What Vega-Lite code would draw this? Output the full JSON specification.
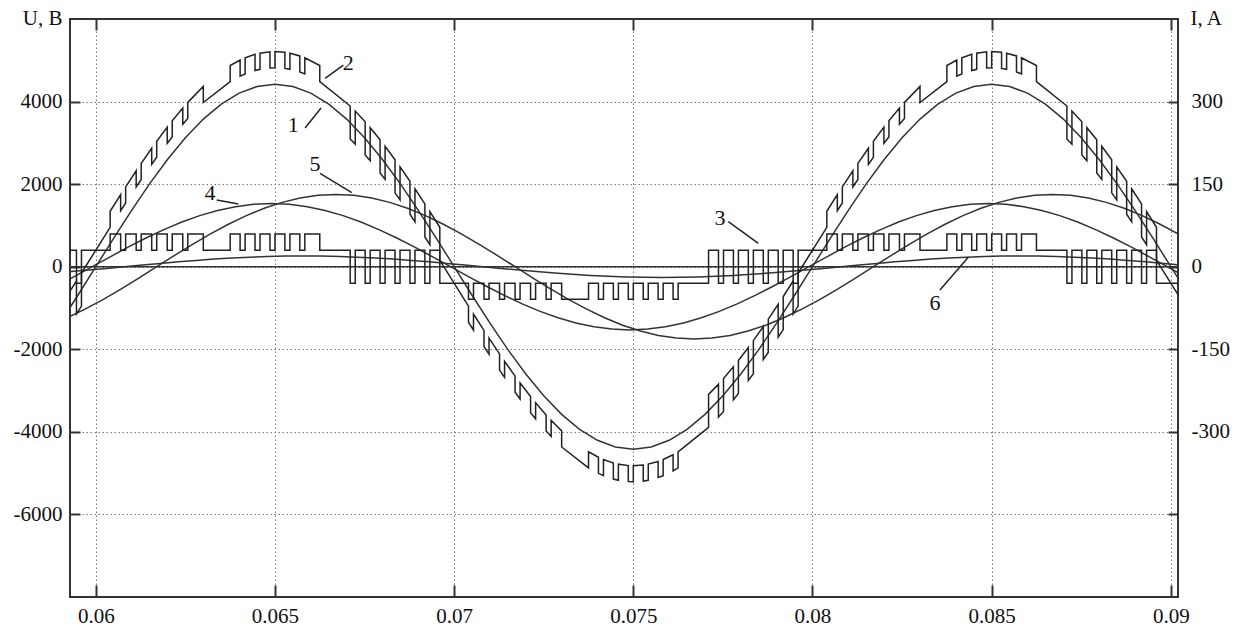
{
"$schema": "https://vega.github.io/schema/vega-lite/v6.json",
"width": 1108, "height": 578,
"autosize": {"type": "none"},
"padding": {"left": 70, "top": 19, "right": 70, "bottom": 31},
"background": "white",
"config": {
 "view": {"stroke": "#333", "strokeWidth": 2},
 "font": "Liberation Serif",
 "axis": {"domain": false, "tickColor": "#333", "tickWidth": 2, "gridColor": "#777", "gridDash": [1.5, 2.5], "gridWidth": 1,
  "labelFont": "Liberation Serif", "labelFontSize": 21, "labelColor": "#111", "titleFont": "Liberation Serif", "titleFontSize": 21,
  "titleFontWeight": "normal", "titleColor": "#111", "labelOverlap": false, "labelFlush": false}
},
"datasets": {
 "smooth": [
  {"s":"0","t":0.05928,"v":0},{"s":"0","t":0.0902,"v":0},
  {"s":"1","t":0.059,"v":-1366},{"s":"1","t":0.0595,"v":-691},{"s":"1","t":0.06,"v":0},{"s":"1","t":0.0605,"v":691},{"s":"1","t":0.061,"v":1366},{"s":"1","t":0.0615,"v":2007},{"s":"1","t":0.062,"v":2598},{"s":"1","t":0.0625,"v":3125},{"s":"1","t":0.063,"v":3576},{"s":"1","t":0.0635,"v":3938},{"s":"1","t":0.064,"v":4204},{"s":"1","t":0.0645,"v":4366},{"s":"1","t":0.065,"v":4420},{"s":"1","t":0.0655,"v":4366},{"s":"1","t":0.066,"v":4204},{"s":"1","t":0.0665,"v":3938},{"s":"1","t":0.067,"v":3576},{"s":"1","t":0.0675,"v":3125},{"s":"1","t":0.068,"v":2598},{"s":"1","t":0.0685,"v":2007},{"s":"1","t":0.069,"v":1366},{"s":"1","t":0.0695,"v":691},{"s":"1","t":0.07,"v":0},{"s":"1","t":0.0705,"v":-691},{"s":"1","t":0.071,"v":-1366},{"s":"1","t":0.0715,"v":-2007},{"s":"1","t":0.072,"v":-2598},{"s":"1","t":0.0725,"v":-3125},{"s":"1","t":0.073,"v":-3576},{"s":"1","t":0.0735,"v":-3938},{"s":"1","t":0.074,"v":-4204},{"s":"1","t":0.0745,"v":-4366},{"s":"1","t":0.075,"v":-4420},{"s":"1","t":0.0755,"v":-4366},{"s":"1","t":0.076,"v":-4204},{"s":"1","t":0.0765,"v":-3938},{"s":"1","t":0.077,"v":-3576},{"s":"1","t":0.0775,"v":-3125},{"s":"1","t":0.078,"v":-2598},{"s":"1","t":0.0785,"v":-2007},{"s":"1","t":0.079,"v":-1366},{"s":"1","t":0.0795,"v":-691},{"s":"1","t":0.08,"v":0},{"s":"1","t":0.0805,"v":691},{"s":"1","t":0.081,"v":1366},{"s":"1","t":0.0815,"v":2007},{"s":"1","t":0.082,"v":2598},{"s":"1","t":0.0825,"v":3125},{"s":"1","t":0.083,"v":3576},{"s":"1","t":0.0835,"v":3938},{"s":"1","t":0.084,"v":4204},{"s":"1","t":0.0845,"v":4366},{"s":"1","t":0.085,"v":4420},{"s":"1","t":0.0855,"v":4366},{"s":"1","t":0.086,"v":4204},{"s":"1","t":0.0865,"v":3938},{"s":"1","t":0.087,"v":3576},{"s":"1","t":0.0875,"v":3125},{"s":"1","t":0.088,"v":2598},{"s":"1","t":0.0885,"v":2007},{"s":"1","t":0.089,"v":1366},{"s":"1","t":0.0895,"v":691},{"s":"1","t":0.09,"v":0},{"s":"1","t":0.0905,"v":-691},
  {"s":"4","t":0.0589,"v":-473},{"s":"4","t":0.0594,"v":-239},{"s":"4","t":0.0599,"v":0},{"s":"4","t":0.0604,"v":239},{"s":"4","t":0.0609,"v":473},{"s":"4","t":0.0614,"v":695},{"s":"4","t":0.0619,"v":899},{"s":"4","t":0.0624,"v":1082},{"s":"4","t":0.0629,"v":1238},{"s":"4","t":0.0634,"v":1363},{"s":"4","t":0.0639,"v":1455},{"s":"4","t":0.0644,"v":1511},{"s":"4","t":0.0649,"v":1530},{"s":"4","t":0.0654,"v":1511},{"s":"4","t":0.0659,"v":1455},{"s":"4","t":0.0664,"v":1363},{"s":"4","t":0.0669,"v":1238},{"s":"4","t":0.0674,"v":1082},{"s":"4","t":0.0679,"v":899},{"s":"4","t":0.0684,"v":695},{"s":"4","t":0.0689,"v":473},{"s":"4","t":0.0694,"v":239},{"s":"4","t":0.0699,"v":0},{"s":"4","t":0.0704,"v":-239},{"s":"4","t":0.0709,"v":-473},{"s":"4","t":0.0714,"v":-695},{"s":"4","t":0.0719,"v":-899},{"s":"4","t":0.0724,"v":-1082},{"s":"4","t":0.0729,"v":-1238},{"s":"4","t":0.0734,"v":-1363},{"s":"4","t":0.0739,"v":-1455},{"s":"4","t":0.0744,"v":-1511},{"s":"4","t":0.0749,"v":-1530},{"s":"4","t":0.0754,"v":-1511},{"s":"4","t":0.0759,"v":-1455},{"s":"4","t":0.0764,"v":-1363},{"s":"4","t":0.0769,"v":-1238},{"s":"4","t":0.0774,"v":-1082},{"s":"4","t":0.0779,"v":-899},{"s":"4","t":0.0784,"v":-695},{"s":"4","t":0.0789,"v":-473},{"s":"4","t":0.0794,"v":-239},{"s":"4","t":0.0799,"v":0},{"s":"4","t":0.0804,"v":239},{"s":"4","t":0.0809,"v":473},{"s":"4","t":0.0814,"v":695},{"s":"4","t":0.0819,"v":899},{"s":"4","t":0.0824,"v":1082},{"s":"4","t":0.0829,"v":1238},{"s":"4","t":0.0834,"v":1363},{"s":"4","t":0.0839,"v":1455},{"s":"4","t":0.0844,"v":1511},{"s":"4","t":0.0849,"v":1530},{"s":"4","t":0.0854,"v":1511},{"s":"4","t":0.0859,"v":1455},{"s":"4","t":0.0864,"v":1363},{"s":"4","t":0.0869,"v":1238},{"s":"4","t":0.0874,"v":1082},{"s":"4","t":0.0879,"v":899},{"s":"4","t":0.0884,"v":695},{"s":"4","t":0.0889,"v":473},{"s":"4","t":0.0894,"v":239},{"s":"4","t":0.0899,"v":0},{"s":"4","t":0.0904,"v":-239},
  {"s":"5","t":0.0587,"v":-1416},{"s":"5","t":0.0592,"v":-1237},{"s":"5","t":0.0597,"v":-1029},{"s":"5","t":0.0602,"v":-795},{"s":"5","t":0.0607,"v":-541},{"s":"5","t":0.0612,"v":-274},{"s":"5","t":0.0617,"v":0},{"s":"5","t":0.0622,"v":274},{"s":"5","t":0.0627,"v":541},{"s":"5","t":0.0632,"v":795},{"s":"5","t":0.0637,"v":1029},{"s":"5","t":0.0642,"v":1237},{"s":"5","t":0.0647,"v":1416},{"s":"5","t":0.0652,"v":1559},{"s":"5","t":0.0657,"v":1664},{"s":"5","t":0.0662,"v":1729},{"s":"5","t":0.0667,"v":1750},{"s":"5","t":0.0672,"v":1729},{"s":"5","t":0.0677,"v":1664},{"s":"5","t":0.0682,"v":1559},{"s":"5","t":0.0687,"v":1416},{"s":"5","t":0.0692,"v":1237},{"s":"5","t":0.0697,"v":1029},{"s":"5","t":0.0702,"v":795},{"s":"5","t":0.0707,"v":541},{"s":"5","t":0.0712,"v":274},{"s":"5","t":0.0717,"v":0},{"s":"5","t":0.0722,"v":-274},{"s":"5","t":0.0727,"v":-541},{"s":"5","t":0.0732,"v":-795},{"s":"5","t":0.0737,"v":-1029},{"s":"5","t":0.0742,"v":-1237},{"s":"5","t":0.0747,"v":-1416},{"s":"5","t":0.0752,"v":-1559},{"s":"5","t":0.0757,"v":-1664},{"s":"5","t":0.0762,"v":-1729},{"s":"5","t":0.0767,"v":-1750},{"s":"5","t":0.0772,"v":-1729},{"s":"5","t":0.0777,"v":-1664},{"s":"5","t":0.0782,"v":-1559},{"s":"5","t":0.0787,"v":-1416},{"s":"5","t":0.0792,"v":-1237},{"s":"5","t":0.0797,"v":-1029},{"s":"5","t":0.0802,"v":-795},{"s":"5","t":0.0807,"v":-541},{"s":"5","t":0.0812,"v":-274},{"s":"5","t":0.0817,"v":0},{"s":"5","t":0.0822,"v":274},{"s":"5","t":0.0827,"v":541},{"s":"5","t":0.0832,"v":795},{"s":"5","t":0.0837,"v":1029},{"s":"5","t":0.0842,"v":1237},{"s":"5","t":0.0847,"v":1416},{"s":"5","t":0.0852,"v":1559},{"s":"5","t":0.0857,"v":1664},{"s":"5","t":0.0862,"v":1729},{"s":"5","t":0.0867,"v":1750},{"s":"5","t":0.0872,"v":1729},{"s":"5","t":0.0877,"v":1664},{"s":"5","t":0.0882,"v":1559},{"s":"5","t":0.0887,"v":1416},{"s":"5","t":0.0892,"v":1237},{"s":"5","t":0.0897,"v":1029},{"s":"5","t":0.0902,"v":795},{"s":"5","t":0.0907,"v":541},
  {"s":"6","t":0.0588,"v":-153},{"s":"6","t":0.0593,"v":-118},{"s":"6","t":0.0598,"v":-80},{"s":"6","t":0.0603,"v":-41},{"s":"6","t":0.0608,"v":0},{"s":"6","t":0.0613,"v":41},{"s":"6","t":0.0618,"v":80},{"s":"6","t":0.0623,"v":118},{"s":"6","t":0.0628,"v":153},{"s":"6","t":0.0633,"v":184},{"s":"6","t":0.0638,"v":210},{"s":"6","t":0.0643,"v":232},{"s":"6","t":0.0648,"v":247},{"s":"6","t":0.0653,"v":257},{"s":"6","t":0.0658,"v":260},{"s":"6","t":0.0663,"v":257},{"s":"6","t":0.0668,"v":247},{"s":"6","t":0.0673,"v":232},{"s":"6","t":0.0678,"v":210},{"s":"6","t":0.0683,"v":184},{"s":"6","t":0.0688,"v":153},{"s":"6","t":0.0693,"v":118},{"s":"6","t":0.0698,"v":80},{"s":"6","t":0.0703,"v":41},{"s":"6","t":0.0708,"v":0},{"s":"6","t":0.0713,"v":-41},{"s":"6","t":0.0718,"v":-80},{"s":"6","t":0.0723,"v":-118},{"s":"6","t":0.0728,"v":-153},{"s":"6","t":0.0733,"v":-184},{"s":"6","t":0.0738,"v":-210},{"s":"6","t":0.0743,"v":-232},{"s":"6","t":0.0748,"v":-247},{"s":"6","t":0.0753,"v":-257},{"s":"6","t":0.0758,"v":-260},{"s":"6","t":0.0763,"v":-257},{"s":"6","t":0.0768,"v":-247},{"s":"6","t":0.0773,"v":-232},{"s":"6","t":0.0778,"v":-210},{"s":"6","t":0.0783,"v":-184},{"s":"6","t":0.0788,"v":-153},{"s":"6","t":0.0793,"v":-118},{"s":"6","t":0.0798,"v":-80},{"s":"6","t":0.0803,"v":-41},{"s":"6","t":0.0808,"v":0},{"s":"6","t":0.0813,"v":41},{"s":"6","t":0.0818,"v":80},{"s":"6","t":0.0823,"v":118},{"s":"6","t":0.0828,"v":153},{"s":"6","t":0.0833,"v":184},{"s":"6","t":0.0838,"v":210},{"s":"6","t":0.0843,"v":232},{"s":"6","t":0.0848,"v":247},{"s":"6","t":0.0853,"v":257},{"s":"6","t":0.0858,"v":260},{"s":"6","t":0.0863,"v":257},{"s":"6","t":0.0868,"v":247},{"s":"6","t":0.0873,"v":232},{"s":"6","t":0.0878,"v":210},{"s":"6","t":0.0883,"v":184},{"s":"6","t":0.0888,"v":153},{"s":"6","t":0.0893,"v":118},{"s":"6","t":0.0898,"v":80},{"s":"6","t":0.0903,"v":41}
 ],
 "c3": [
  {"t":0.05928,"v":400},{"t":0.05946,"v":400},{"t":0.05946,"v":-400},{"t":0.0596,"v":-400},{"t":0.0596,"v":400},{"t":0.0604,"v":400},{"t":0.0604,"v":790},
  {"t":0.060693,"v":790},{"t":0.060693,"v":400},{"t":0.060833,"v":400},{"t":0.060833,"v":790},
  {"t":0.061127,"v":790},{"t":0.061127,"v":400},{"t":0.061267,"v":400},{"t":0.061267,"v":790},
  {"t":0.06156,"v":790},{"t":0.06156,"v":400},{"t":0.0617,"v":400},{"t":0.0617,"v":790},
  {"t":0.061993,"v":790},{"t":0.061993,"v":400},{"t":0.062133,"v":400},{"t":0.062133,"v":790},
  {"t":0.062427,"v":790},{"t":0.062427,"v":400},{"t":0.062567,"v":400},{"t":0.062567,"v":790},
  {"t":0.063,"v":790},{"t":0.063,"v":400},{"t":0.06375,"v":400},{"t":0.06375,"v":790},
  {"t":0.064027,"v":790},{"t":0.064027,"v":400},{"t":0.064167,"v":400},{"t":0.064167,"v":790},
  {"t":0.064443,"v":790},{"t":0.064443,"v":400},{"t":0.064583,"v":400},{"t":0.064583,"v":790},
  {"t":0.06486,"v":790},{"t":0.06486,"v":400},{"t":0.065,"v":400},{"t":0.065,"v":790},
  {"t":0.065277,"v":790},{"t":0.065277,"v":400},{"t":0.065417,"v":400},{"t":0.065417,"v":790},
  {"t":0.065693,"v":790},{"t":0.065693,"v":400},{"t":0.065833,"v":400},{"t":0.065833,"v":790},
  {"t":0.06625,"v":790},{"t":0.06625,"v":400},{"t":0.0671,"v":400},{"t":0.0671,"v":-400},{"t":0.06724,"v":-400},{"t":0.06724,"v":400},
  {"t":0.067517,"v":400},{"t":0.067517,"v":-400},{"t":0.067657,"v":-400},{"t":0.067657,"v":400},
  {"t":0.067933,"v":400},{"t":0.067933,"v":-400},{"t":0.068073,"v":-400},{"t":0.068073,"v":400},
  {"t":0.06835,"v":400},{"t":0.06835,"v":-400},{"t":0.06849,"v":-400},{"t":0.06849,"v":400},
  {"t":0.068767,"v":400},{"t":0.068767,"v":-400},{"t":0.068907,"v":-400},{"t":0.068907,"v":400},
  {"t":0.069183,"v":400},{"t":0.069183,"v":-400},{"t":0.069323,"v":-400},{"t":0.069323,"v":400},
  {"t":0.0696,"v":400},{"t":0.0696,"v":-400},{"t":0.0704,"v":-400},{"t":0.0704,"v":-790},{"t":0.07054,"v":-790},{"t":0.07054,"v":-400},
  {"t":0.070833,"v":-400},{"t":0.070833,"v":-790},{"t":0.070973,"v":-790},{"t":0.070973,"v":-400},
  {"t":0.071267,"v":-400},{"t":0.071267,"v":-790},{"t":0.071407,"v":-790},{"t":0.071407,"v":-400},
  {"t":0.0717,"v":-400},{"t":0.0717,"v":-790},{"t":0.07184,"v":-790},{"t":0.07184,"v":-400},
  {"t":0.072133,"v":-400},{"t":0.072133,"v":-790},{"t":0.072273,"v":-790},{"t":0.072273,"v":-400},
  {"t":0.072567,"v":-400},{"t":0.072567,"v":-790},{"t":0.072707,"v":-790},{"t":0.072707,"v":-400},
  {"t":0.073,"v":-400},{"t":0.073,"v":-790},{"t":0.07375,"v":-790},{"t":0.07375,"v":-400},
  {"t":0.074027,"v":-400},{"t":0.074027,"v":-790},{"t":0.074167,"v":-790},{"t":0.074167,"v":-400},
  {"t":0.074443,"v":-400},{"t":0.074443,"v":-790},{"t":0.074583,"v":-790},{"t":0.074583,"v":-400},
  {"t":0.07486,"v":-400},{"t":0.07486,"v":-790},{"t":0.075,"v":-790},{"t":0.075,"v":-400},
  {"t":0.075277,"v":-400},{"t":0.075277,"v":-790},{"t":0.075417,"v":-790},{"t":0.075417,"v":-400},
  {"t":0.075693,"v":-400},{"t":0.075693,"v":-790},{"t":0.075833,"v":-790},{"t":0.075833,"v":-400},
  {"t":0.07611,"v":-400},{"t":0.07611,"v":-790},{"t":0.07625,"v":-790},{"t":0.07625,"v":-400},
  {"t":0.0771,"v":-400},{"t":0.0771,"v":400},
  {"t":0.077377,"v":400},{"t":0.077377,"v":-400},{"t":0.077517,"v":-400},{"t":0.077517,"v":400},
  {"t":0.077793,"v":400},{"t":0.077793,"v":-400},{"t":0.077933,"v":-400},{"t":0.077933,"v":400},
  {"t":0.07821,"v":400},{"t":0.07821,"v":-400},{"t":0.07835,"v":-400},{"t":0.07835,"v":400},
  {"t":0.078627,"v":400},{"t":0.078627,"v":-400},{"t":0.078767,"v":-400},{"t":0.078767,"v":400},
  {"t":0.079043,"v":400},{"t":0.079043,"v":-400},{"t":0.079183,"v":-400},{"t":0.079183,"v":400},
  {"t":0.07946,"v":400},{"t":0.07946,"v":-400},{"t":0.0796,"v":-400},{"t":0.0796,"v":400},
  {"t":0.0804,"v":400},{"t":0.0804,"v":790},
  {"t":0.080693,"v":790},{"t":0.080693,"v":400},{"t":0.080833,"v":400},{"t":0.080833,"v":790},
  {"t":0.081127,"v":790},{"t":0.081127,"v":400},{"t":0.081267,"v":400},{"t":0.081267,"v":790},
  {"t":0.08156,"v":790},{"t":0.08156,"v":400},{"t":0.0817,"v":400},{"t":0.0817,"v":790},
  {"t":0.081993,"v":790},{"t":0.081993,"v":400},{"t":0.082133,"v":400},{"t":0.082133,"v":790},
  {"t":0.082427,"v":790},{"t":0.082427,"v":400},{"t":0.082567,"v":400},{"t":0.082567,"v":790},
  {"t":0.083,"v":790},{"t":0.083,"v":400},{"t":0.08375,"v":400},{"t":0.08375,"v":790},
  {"t":0.084027,"v":790},{"t":0.084027,"v":400},{"t":0.084167,"v":400},{"t":0.084167,"v":790},
  {"t":0.084443,"v":790},{"t":0.084443,"v":400},{"t":0.084583,"v":400},{"t":0.084583,"v":790},
  {"t":0.08486,"v":790},{"t":0.08486,"v":400},{"t":0.085,"v":400},{"t":0.085,"v":790},
  {"t":0.085277,"v":790},{"t":0.085277,"v":400},{"t":0.085417,"v":400},{"t":0.085417,"v":790},
  {"t":0.085693,"v":790},{"t":0.085693,"v":400},{"t":0.085833,"v":400},{"t":0.085833,"v":790},
  {"t":0.08625,"v":790},{"t":0.08625,"v":400},{"t":0.0871,"v":400},{"t":0.0871,"v":-400},{"t":0.08724,"v":-400},{"t":0.08724,"v":400},
  {"t":0.087517,"v":400},{"t":0.087517,"v":-400},{"t":0.087657,"v":-400},{"t":0.087657,"v":400},
  {"t":0.087933,"v":400},{"t":0.087933,"v":-400},{"t":0.088073,"v":-400},{"t":0.088073,"v":400},
  {"t":0.08835,"v":400},{"t":0.08835,"v":-400},{"t":0.08849,"v":-400},{"t":0.08849,"v":400},
  {"t":0.088767,"v":400},{"t":0.088767,"v":-400},{"t":0.088907,"v":-400},{"t":0.088907,"v":400},
  {"t":0.089183,"v":400},{"t":0.089183,"v":-400},{"t":0.089323,"v":-400},{"t":0.089323,"v":400},
  {"t":0.0896,"v":400},{"t":0.0896,"v":-400},{"t":0.0902,"v":-400}
 ],
 "c2": [
  {"t":0.05928,"v":-591},{"t":0.05946,"v":-346},{"t":0.05946,"v":-1146},{"t":0.0596,"v":-954},{"t":0.0596,"v":-154},{"t":0.0604,"v":954},{"t":0.0604,"v":1344},
  {"t":0.060693,"v":1745},{"t":0.060693,"v":1355},{"t":0.060833,"v":1544},{"t":0.060833,"v":1934},
  {"t":0.061127,"v":2322},{"t":0.061127,"v":1932},{"t":0.061267,"v":2113},{"t":0.061267,"v":2503},
  {"t":0.06156,"v":2870},{"t":0.06156,"v":2480},{"t":0.0617,"v":2650},{"t":0.0617,"v":3040},
  {"t":0.061993,"v":3380},{"t":0.061993,"v":2990},{"t":0.062133,"v":3145},{"t":0.062133,"v":3535},
  {"t":0.062427,"v":3843},{"t":0.062427,"v":3453},{"t":0.062567,"v":3590},{"t":0.062567,"v":3980},
  {"t":0.063,"v":4366},{"t":0.063,"v":3976},{"t":0.06375,"v":4484},{"t":0.06375,"v":4874},
  {"t":0.064027,"v":5005},{"t":0.064027,"v":4615},{"t":0.064167,"v":4670},{"t":0.064167,"v":5060},
  {"t":0.064443,"v":5143},{"t":0.064443,"v":4753},{"t":0.064583,"v":4782},{"t":0.064583,"v":5172},
  {"t":0.06486,"v":5206},{"t":0.06486,"v":4816},{"t":0.065,"v":4820},{"t":0.065,"v":5210},
  {"t":0.065277,"v":5193},{"t":0.065277,"v":4803},{"t":0.065417,"v":4782},{"t":0.065417,"v":5172},
  {"t":0.065693,"v":5106},{"t":0.065693,"v":4716},{"t":0.065833,"v":4670},{"t":0.065833,"v":5060},
  {"t":0.06625,"v":4874},{"t":0.06625,"v":4484},
  {"t":0.0671,"v":3893},{"t":0.0671,"v":3093},{"t":0.06724,"v":2969},{"t":0.06724,"v":3769},
  {"t":0.067517,"v":3509},{"t":0.067517,"v":2709},{"t":0.067657,"v":2568},{"t":0.067657,"v":3368},
  {"t":0.067933,"v":3073},{"t":0.067933,"v":2273},{"t":0.068073,"v":2115},{"t":0.068073,"v":2915},
  {"t":0.06835,"v":2590},{"t":0.06835,"v":1790},{"t":0.06849,"v":1619},{"t":0.06849,"v":2419},
  {"t":0.068767,"v":2070},{"t":0.068767,"v":1270},{"t":0.068907,"v":1088},{"t":0.068907,"v":1888},
  {"t":0.069183,"v":1522},{"t":0.069183,"v":722},{"t":0.069323,"v":533},{"t":0.069323,"v":1333},
  {"t":0.0696,"v":954},{"t":0.0696,"v":154},
  {"t":0.0704,"v":-954},{"t":0.0704,"v":-1344},{"t":0.07054,"v":-1536},{"t":0.07054,"v":-1146},
  {"t":0.070833,"v":-1544},{"t":0.070833,"v":-1934},{"t":0.070973,"v":-2120},{"t":0.070973,"v":-1730},
  {"t":0.071267,"v":-2113},{"t":0.071267,"v":-2503},{"t":0.071407,"v":-2681},{"t":0.071407,"v":-2291},
  {"t":0.0717,"v":-2650},{"t":0.0717,"v":-3040},{"t":0.07184,"v":-3205},{"t":0.07184,"v":-2815},
  {"t":0.072133,"v":-3145},{"t":0.072133,"v":-3535},{"t":0.072273,"v":-3685},{"t":0.072273,"v":-3295},
  {"t":0.072567,"v":-3590},{"t":0.072567,"v":-3980},{"t":0.072707,"v":-4111},{"t":0.072707,"v":-3721},
  {"t":0.073,"v":-3976},{"t":0.073,"v":-4366},
  {"t":0.07375,"v":-4874},{"t":0.07375,"v":-4484},
  {"t":0.074027,"v":-4615},{"t":0.074027,"v":-5005},{"t":0.074167,"v":-5060},{"t":0.074167,"v":-4670},
  {"t":0.074443,"v":-4753},{"t":0.074443,"v":-5143},{"t":0.074583,"v":-5172},{"t":0.074583,"v":-4782},
  {"t":0.07486,"v":-4816},{"t":0.07486,"v":-5206},{"t":0.075,"v":-5210},{"t":0.075,"v":-4820},
  {"t":0.075277,"v":-4803},{"t":0.075277,"v":-5193},{"t":0.075417,"v":-5172},{"t":0.075417,"v":-4782},
  {"t":0.075693,"v":-4716},{"t":0.075693,"v":-5106},{"t":0.075833,"v":-5060},{"t":0.075833,"v":-4670},
  {"t":0.07611,"v":-4554},{"t":0.07611,"v":-4944},{"t":0.07625,"v":-4874},{"t":0.07625,"v":-4484},
  {"t":0.0771,"v":-3893},{"t":0.0771,"v":-3093},
  {"t":0.077377,"v":-2844},{"t":0.077377,"v":-3644},{"t":0.077517,"v":-3509},{"t":0.077517,"v":-2709},
  {"t":0.077793,"v":-2425},{"t":0.077793,"v":-3225},{"t":0.077933,"v":-3073},{"t":0.077933,"v":-2273},
  {"t":0.07821,"v":-1957},{"t":0.07821,"v":-2757},{"t":0.07835,"v":-2590},{"t":0.07835,"v":-1790},
  {"t":0.078627,"v":-1448},{"t":0.078627,"v":-2248},{"t":0.078767,"v":-2070},{"t":0.078767,"v":-1270},
  {"t":0.079043,"v":-909},{"t":0.079043,"v":-1709},{"t":0.079183,"v":-1522},{"t":0.079183,"v":-722},
  {"t":0.07946,"v":-346},{"t":0.07946,"v":-1146},{"t":0.0796,"v":-954},{"t":0.0796,"v":-154},
  {"t":0.0804,"v":954},{"t":0.0804,"v":1344},
  {"t":0.080693,"v":1745},{"t":0.080693,"v":1355},{"t":0.080833,"v":1544},{"t":0.080833,"v":1934},
  {"t":0.081127,"v":2322},{"t":0.081127,"v":1932},{"t":0.081267,"v":2113},{"t":0.081267,"v":2503},
  {"t":0.08156,"v":2870},{"t":0.08156,"v":2480},{"t":0.0817,"v":2650},{"t":0.0817,"v":3040},
  {"t":0.081993,"v":3380},{"t":0.081993,"v":2990},{"t":0.082133,"v":3145},{"t":0.082133,"v":3535},
  {"t":0.082427,"v":3843},{"t":0.082427,"v":3453},{"t":0.082567,"v":3590},{"t":0.082567,"v":3980},
  {"t":0.083,"v":4366},{"t":0.083,"v":3976},{"t":0.08375,"v":4484},{"t":0.08375,"v":4874},
  {"t":0.084027,"v":5005},{"t":0.084027,"v":4615},{"t":0.084167,"v":4670},{"t":0.084167,"v":5060},
  {"t":0.084443,"v":5143},{"t":0.084443,"v":4753},{"t":0.084583,"v":4782},{"t":0.084583,"v":5172},
  {"t":0.08486,"v":5206},{"t":0.08486,"v":4816},{"t":0.085,"v":4820},{"t":0.085,"v":5210},
  {"t":0.085277,"v":5193},{"t":0.085277,"v":4803},{"t":0.085417,"v":4782},{"t":0.085417,"v":5172},
  {"t":0.085693,"v":5106},{"t":0.085693,"v":4716},{"t":0.085833,"v":4670},{"t":0.085833,"v":5060},
  {"t":0.08625,"v":4874},{"t":0.08625,"v":4484},
  {"t":0.0871,"v":3893},{"t":0.0871,"v":3093},{"t":0.08724,"v":2969},{"t":0.08724,"v":3769},
  {"t":0.087517,"v":3509},{"t":0.087517,"v":2709},{"t":0.087657,"v":2568},{"t":0.087657,"v":3368},
  {"t":0.087933,"v":3073},{"t":0.087933,"v":2273},{"t":0.088073,"v":2115},{"t":0.088073,"v":2915},
  {"t":0.08835,"v":2590},{"t":0.08835,"v":1790},{"t":0.08849,"v":1619},{"t":0.08849,"v":2419},
  {"t":0.088767,"v":2070},{"t":0.088767,"v":1270},{"t":0.088907,"v":1088},{"t":0.088907,"v":1888},
  {"t":0.089183,"v":1522},{"t":0.089183,"v":722},{"t":0.089323,"v":533},{"t":0.089323,"v":1333},
  {"t":0.0896,"v":954},{"t":0.0896,"v":154},{"t":0.0902,"v":-677}
 ],
 "labels": [
  {"t":0.067048,"v":4926,"label":"2"},{"t":0.065513,"v":3432,"label":"1"},{"t":0.066119,"v":2487,"label":"5"},
  {"t":0.063189,"v":1778,"label":"4"},{"t":0.077419,"v":1172,"label":"3"},{"t":0.083418,"v":-886,"label":"6"}
 ],
 "leaders": [
  {"t":0.066908,"v":4885,"t2":0.066398,"v2":4563},{"t":0.06584,"v":3359,"t2":0.066286,"v2":3844},
  {"t":0.066258,"v":2262,"t2":0.067143,"v2":1792},{"t":0.063376,"v":1615,"t2":0.063979,"v2":1519},
  {"t":0.077651,"v":1090,"t2":0.078488,"v2":567},{"t":0.083556,"v":-564,"t2":0.084348,"v2":228}
 ]
},
"layer": [
 {
  "encoding": {
   "x": {"field": "t", "type": "quantitative", "scale": {"domain": [0.05928, 0.0902], "nice": false, "zero": false},
    "axis": {"values": [0.06, 0.065, 0.07, 0.075, 0.08, 0.085, 0.09], "format": "~g", "tickSize": -12, "labelPadding": 20, "grid": true, "title": null}},
   "y": {"field": "v", "type": "quantitative", "scale": {"domain": [-8000, 6000], "nice": false, "zero": false},
    "axis": {"values": [-6000, -4000, -2000, 0, 2000, 4000], "labelExpr": "datum.value < 0 ? '-' + format(-datum.value, 'd') : format(datum.value, 'd')",
     "tickSize": -10, "labelPadding": 18, "grid": true, "title": "U, B", "titleAngle": 0, "titleAlign": "right", "titleBaseline": "middle", "titleX": -8, "titleY": -1}}
  },
  "layer": [
   {"data": {"name": "smooth"}, "mark": {"type": "line", "clip": true, "color": "#333", "strokeWidth": 1.5}, "encoding": {"detail": {"field": "s"}}},
   {"data": {"name": "c3"}, "mark": {"type": "line", "clip": true, "color": "#222", "strokeWidth": 1.5}, "encoding": {"order": {"value": null}}},
   {"data": {"name": "c2"}, "mark": {"type": "line", "clip": true, "color": "#222", "strokeWidth": 1.5}, "encoding": {"order": {"value": null}}},
   {"data": {"name": "leaders"}, "mark": {"type": "rule", "color": "#222", "strokeWidth": 1.5}, "encoding": {"x2": {"field": "t2"}, "y2": {"field": "v2"}}},
   {"data": {"name": "labels"}, "mark": {"type": "text", "font": "Liberation Serif", "fontSize": 22, "color": "#111", "align": "center", "baseline": "middle"}, "encoding": {"text": {"field": "label"}}}
  ]
 },
 {
  "data": {"name": "labels"},
  "mark": {"type": "point", "opacity": 0},
  "encoding": {
   "x": {"field": "t", "type": "quantitative", "scale": {"domain": [0.05928, 0.0902], "nice": false, "zero": false},
    "axis": {"orient": "top", "values": [0.06, 0.065, 0.07, 0.075, 0.08, 0.085, 0.09], "labels": false, "tickSize": -11, "grid": false, "title": null}},
   "y": {"field": "v", "type": "quantitative", "scale": {"domain": [-600, 450], "nice": false, "zero": false},
    "axis": {"orient": "right", "values": [-450, -300, -150, 0, 150, 300],
     "labelExpr": "datum.value == -450 ? '' : (datum.value < 0 ? '-' + format(-datum.value, 'd') : format(datum.value, 'd'))",
     "tickSize": -10, "labelPadding": 23, "grid": false, "title": "I, A", "titleAngle": 0, "titleAlign": "left", "titleBaseline": "middle", "titleX": 12, "titleY": -1}}
  }
 }
],
"resolve": {"scale": {"y": "independent"}, "axis": {"x": "independent", "y": "independent"}}
}
